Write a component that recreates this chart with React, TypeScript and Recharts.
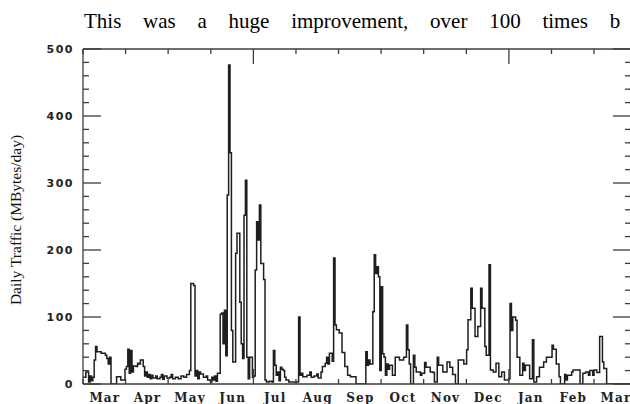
import React from 'react'
import { LineChart, Line, XAxis, YAxis, ReferenceLine } from 'recharts'

// ── Data ─────────────────────────────────────────────────────────────────────
// day offset from 1 Mar, daily traffic (MBytes/day) — step breakpoints
const trafficDays = [
  0, 2, 4, 5, 6, 7, 8, 9, 10, 13, 16, 17, 18, 19, 20, 24, 27, 30, 31, 32, 33, 34, 35, 36, 38, 39, 40, 41, 43, 44,
  45, 46, 47, 48, 49, 50, 52, 53, 55, 56, 57, 58, 60, 62, 63, 64, 66, 68, 70, 72, 74, 76, 77, 79, 80, 81, 82, 83, 84, 86,
  88, 89, 91, 92, 93, 94, 95, 96, 98, 99, 100, 101, 102, 103, 104, 105, 106, 107, 109, 110, 112, 113, 114, 115, 116, 117, 118, 119, 121, 122,
  123, 124, 125, 126, 127, 129, 130, 131, 133, 135, 136, 137, 138, 139, 140, 141, 142, 143, 144, 145, 147, 154, 155, 156, 157, 160, 162, 163, 165, 167,
  168, 170, 171, 173, 174, 175, 176, 178, 179, 180, 181, 183, 185, 187, 189, 191, 195, 202, 203, 204, 205, 207, 208, 209, 210, 211, 212, 213, 214, 215,
  216, 217, 218, 219, 221, 223, 226, 229, 231, 232, 233, 234, 236, 237, 238, 241, 242, 244, 245, 248, 250, 251, 253, 254, 257, 260, 262, 264, 266, 268,
  272, 274, 275, 277, 278, 280, 282, 284, 285, 287, 288, 290, 291, 293, 295, 297, 299, 301, 304, 305, 306, 307, 309, 310, 312, 314, 315, 316, 319, 321,
  322, 324, 326, 329, 331, 335, 336, 338, 340, 341, 344, 345, 346, 349, 350, 355, 357, 359, 361, 362, 364, 365, 367, 369, 371, 372, 374, 392,
]
const trafficValues = [
  10, 18, 3, 12, 5, 10, 36, 56, 48, 46, 43, 38, 30, 40, 0, 11, 6, 22, 26, 52, 16, 50, 18, 27, 26, 31, 30, 36, 26, 12,
  18, 10, 14, 8, 13, 9, 12, 8, 10, 14, 7, 12, 9, 10, 14, 8, 10, 8, 12, 10, 14, 20, 150, 147, 12, 20, 8, 18, 15, 10,
  12, 6, 3, 10, 6, 12, 4, 16, 104, 106, 60, 110, 42, 282, 476, 345, 80, 33, 195, 225, 122, 60, 38, 252, 304, 40, 8, 40, 10, 12,
  170, 242, 215, 267, 180, 156, 6, 3, 4, 3, 50, 28, 13, 18, 5, 25, 22, 20, 10, 6, 3, 100, 13, 16, 11, 13, 18, 10, 12, 15,
  9, 18, 26, 31, 40, 30, 46, 34, 188, 88, 81, 76, 47, 26, 13, 11, 0, 48, 28, 36, 30, 108, 193, 165, 175, 160, 20, 145, 45, 40,
  13, 30, 22, 28, 13, 40, 36, 40, 88, 51, 30, 0, 43, 25, 18, 13, 16, 32, 25, 18, 17, 3, 40, 28, 18, 33, 25, 14, 0, 36,
  30, 51, 96, 143, 113, 71, 86, 143, 113, 56, 43, 178, 21, 18, 31, 11, 18, 6, 8, 120, 80, 100, 95, 40, 13, 31, 20, 28, 8, 66,
  3, 11, 25, 33, 40, 58, 52, 30, 11, 0, 14, 6, 13, 18, 21, 0, 16, 18, 13, 20, 13, 21, 17, 71, 33, 23, 0, 0,
]

const monthLabels = ['Mar', 'Apr', 'May', 'Jun', 'Jul', 'Aug', 'Sep', 'Oct', 'Nov', 'Dec', 'Jan', 'Feb', 'Mar']
const monthStarts = [0, 30.4, 60.8, 91.3, 121.7, 152.1, 182.5, 212.9, 243.3, 273.8, 304.2, 334.6, 365]
const majorMonthTicks = [121.7, 304.2]
const yMinorTicks = [
  0, 20, 40, 60, 80, 100, 120, 140, 160, 180, 200, 220, 240, 260, 280, 300, 320, 340, 360, 380, 400, 420, 440, 460, 480, 500,
]

const X_MAX = 391.4
const monthMids = monthLabels.map((_, i) => monthStarts[i] + 15.2)
const xTicks = [...monthStarts, ...monthMids]

const data = trafficDays.map((d, i) => ({ d, v: trafficValues[i] }))

// ── Layout ───────────────────────────────────────────────────────────────────
const CHART_W = 640
const CHART_H = 404
const M_TOP = 49
const M_RIGHT = 9
const Y_AXIS_W = 83
const X_AXIS_H = 20
const PLOT_LEFT = Y_AXIS_W
const PLOT_RIGHT = CHART_W - M_RIGHT
const PLOT_TOP = M_TOP
const PLOT_BOTTOM = CHART_H - X_AXIS_H

const AXIS = '#3c3c3c'
const TICK_W = 1.3

// bottom axis: month names at mid-month, inward tick marks (bottom + top) at month starts
function XTick({ x, payload }: any) {
  const v = payload.value
  const si = monthStarts.indexOf(v)
  if (si >= 0) {
    const len = majorMonthTicks.includes(v) ? 15 : 5
    return (
      <g stroke={AXIS} strokeWidth={TICK_W}>
        <line x1={x} x2={x} y1={PLOT_BOTTOM} y2={PLOT_BOTTOM - len} />
        <line x1={x} x2={x} y1={PLOT_TOP} y2={PLOT_TOP + len} />
      </g>
    )
  }
  const label = monthLabels[monthMids.indexOf(v)]
  return (
    <text x={x + 0.6} y={PLOT_BOTTOM + 9} dy="0.71em" textAnchor="middle"
      fill="#222" fontSize={12} fontWeight="bold" fontFamily="DejaVu Serif" letterSpacing={1.2}>
      {label}
    </text>
  )
}

// left axis: labels every 100, inward ticks every 20 on both sides of the frame
function YTick({ x, y, payload }: any) {
  const v = payload.value
  const major = v % 100 === 0
  const len = major ? 18 : 6
  return (
    <g>
      <g stroke={AXIS} strokeWidth={TICK_W}>
        <line x1={PLOT_LEFT} x2={PLOT_LEFT + len} y1={y} y2={y} />
        <line x1={PLOT_RIGHT - len} x2={PLOT_RIGHT} y1={y} y2={y} />
      </g>
      {major && (
        <text x={x} y={y} dy="0.355em" textAnchor="end"
          fill="#222" fontSize={11} fontWeight="bold" fontFamily="DejaVu Sans" letterSpacing={1.5}>
          {v}
        </text>
      )}
    </g>
  )
}

export default function App() {
  return (
    <div style={{ position: 'absolute', left: 0, top: 0, width: 630, height: 404, overflow: 'hidden', background: '#fff' }}>
      <LineChart width={CHART_W} height={CHART_H} data={data} margin={{ top: M_TOP, right: M_RIGHT, bottom: 0, left: 0 }}>
        <XAxis
          xAxisId="m" dataKey="d" type="number" domain={[0, X_MAX]} allowDataOverflow
          ticks={xTicks} interval={0} tick={<XTick />}
          tickLine={false} tickSize={0} tickMargin={9} height={X_AXIS_H}
          axisLine={{ stroke: AXIS, strokeWidth: TICK_W }}
        />
        <YAxis
          yAxisId="l" dataKey="v" type="number" domain={[0, 500]} allowDataOverflow width={Y_AXIS_W}
          ticks={yMinorTicks} interval={0} tick={<YTick />}
          tickLine={false} tickSize={0} tickMargin={9}
          axisLine={{ stroke: AXIS, strokeWidth: TICK_W }}
        />
        {/* top and right edges of the frame */}
        <ReferenceLine xAxisId="m" yAxisId="l" y={500} stroke={AXIS} strokeWidth={TICK_W} />
        <ReferenceLine xAxisId="m" yAxisId="l" x={X_MAX} stroke={AXIS} strokeWidth={TICK_W} />

        <Line
          xAxisId="m" yAxisId="l" dataKey="v" type="stepAfter"
          stroke="#1e1e1e" strokeWidth={1.5} dot={false} isAnimationActive={false}
        />
      </LineChart>

      <div style={{
        position: 'absolute', left: 84, top: 9, whiteSpace: 'nowrap',
        fontFamily: '"Liberation Serif"', fontSize: 21, wordSpacing: 16.5, color: '#000',
      }}>
        This was a huge improvement, over 100 times b
      </div>
      <div style={{
        position: 'absolute', left: 16, top: 220, whiteSpace: 'nowrap',
        transform: 'translate(-50%, -50%) rotate(-90deg)',
        fontFamily: '"Liberation Serif"', fontSize: 15.5, color: '#111',
      }}>
        Daily Traffic (MBytes/day)
      </div>
    </div>
  )
}
